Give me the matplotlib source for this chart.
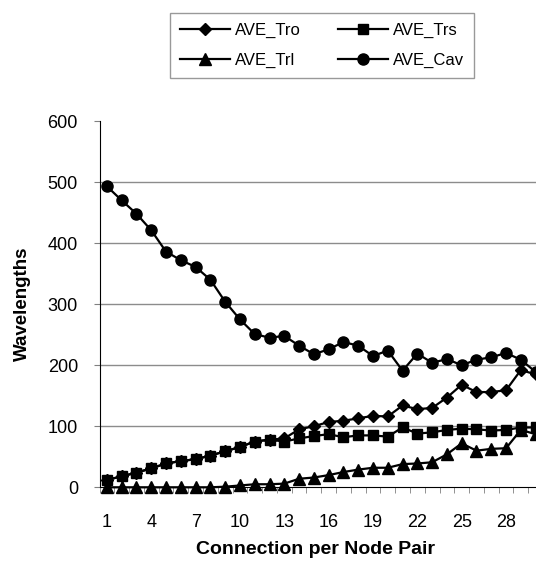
import numpy as np
import matplotlib.pyplot as plt
from matplotlib.ticker import MultipleLocator, FixedLocator

plt.rcParams['font.family'] = ['Liberation Sans', 'DejaVu Sans']

# connection per node pair, 1..30
conn = np.arange(1, 31)

# values
ave_tro = [12, 18, 24, 31, 39, 43, 46, 52, 59, 66, 75, 78, 80, 95, 100, 107, 109, 113, 117, 116,
           134, 128, 130, 147, 168, 156, 156, 159, 192, 185]
ave_trs = [12, 18, 24, 31, 39, 43, 46, 52, 59, 66, 75, 78, 75, 80, 84, 87, 82, 85, 85, 83,
           98, 88, 90, 94, 96, 95, 93, 94, 98, 98]
ave_trl = [0, 0, 0, 0, 0, 0, 0, 0, 1, 3, 5, 5, 6, 14, 16, 20, 25, 29, 32, 32,
           38, 39, 41, 54, 72, 60, 63, 64, 94, 87]
ave_cav = [493, 470, 448, 421, 386, 372, 361, 340, 304, 275, 251, 245, 248, 232, 218, 226, 238, 232, 215, 224,
           191, 219, 204, 210, 200, 209, 213, 220, 209, 189]

xticks = [1, 4, 7, 10, 13, 16, 19, 22, 25, 28]

fig = plt.figure(figsize=(5.36, 5.61), dpi=100)
# plot area runs a bit past the right edge, as in the cropped original
ax = fig.add_axes([99.5 / 536, 1 - 487.3 / 561, 443.5 / 536, 366.3 / 561])

kw = dict(color='black', lw=1.6, clip_on=False)
l1, = ax.plot(conn, ave_tro, marker='D', ms=6.5, label='AVE_Tro', **kw)
l2, = ax.plot(conn, ave_trs, marker='s', ms=7.5, label='AVE_Trs', **kw)
l3, = ax.plot(conn, ave_trl, marker='^', ms=8, label='AVE_Trl', **kw)
l4, = ax.plot(conn, ave_cav, marker='o', ms=8, label='AVE_Cav', **kw)

ax.set_xlim(0.5, 30.5)
ax.set_ylim(0, 600)

for s in ['top', 'right']:
    ax.spines[s].set_visible(False)
ax.spines['left'].set_color('black')
ax.spines['bottom'].set_color('black')

ax.yaxis.set_major_locator(MultipleLocator(100))
for y in range(100, 600, 100):
    ax.axhline(y, color='#8c8c8c', lw=1, zorder=0)

ax.xaxis.set_major_locator(FixedLocator(xticks))
ax.xaxis.set_minor_locator(FixedLocator(np.arange(0.5, 31, 1)))
ax.tick_params(axis='x', which='major', length=0, pad=19, labelsize=13)
ax.tick_params(axis='x', which='minor', length=4, color='#808080', direction='out')
ax.tick_params(axis='y', length=4.5, color='#808080', pad=11, labelsize=13)

fig.text(316 / 536, 1 - 550 / 561, 'Connection per Node Pair',
         ha='center', va='center', fontsize=14, fontweight='bold')
fig.text(22 / 536, 1 - 304 / 561, 'Wavelengths', rotation=90,
         ha='center', va='center', fontsize=13.5, fontweight='bold')

leg = fig.legend([l1, l3, l2, l4], ['AVE_Tro', 'AVE_Trl', 'AVE_Trs', 'AVE_Cav'],
                 ncol=2, loc='center', bbox_to_anchor=(322 / 536, 1 - 45.5 / 561),
                 fontsize=12, frameon=True, fancybox=False, edgecolor='#808080',
                 handlelength=3.0, handletextpad=0.3, columnspacing=2.2, labelspacing=0.9,
                 borderpad=0.6)
leg.get_frame().set_linewidth(1)

fig.savefig('out.png', dpi=100)
